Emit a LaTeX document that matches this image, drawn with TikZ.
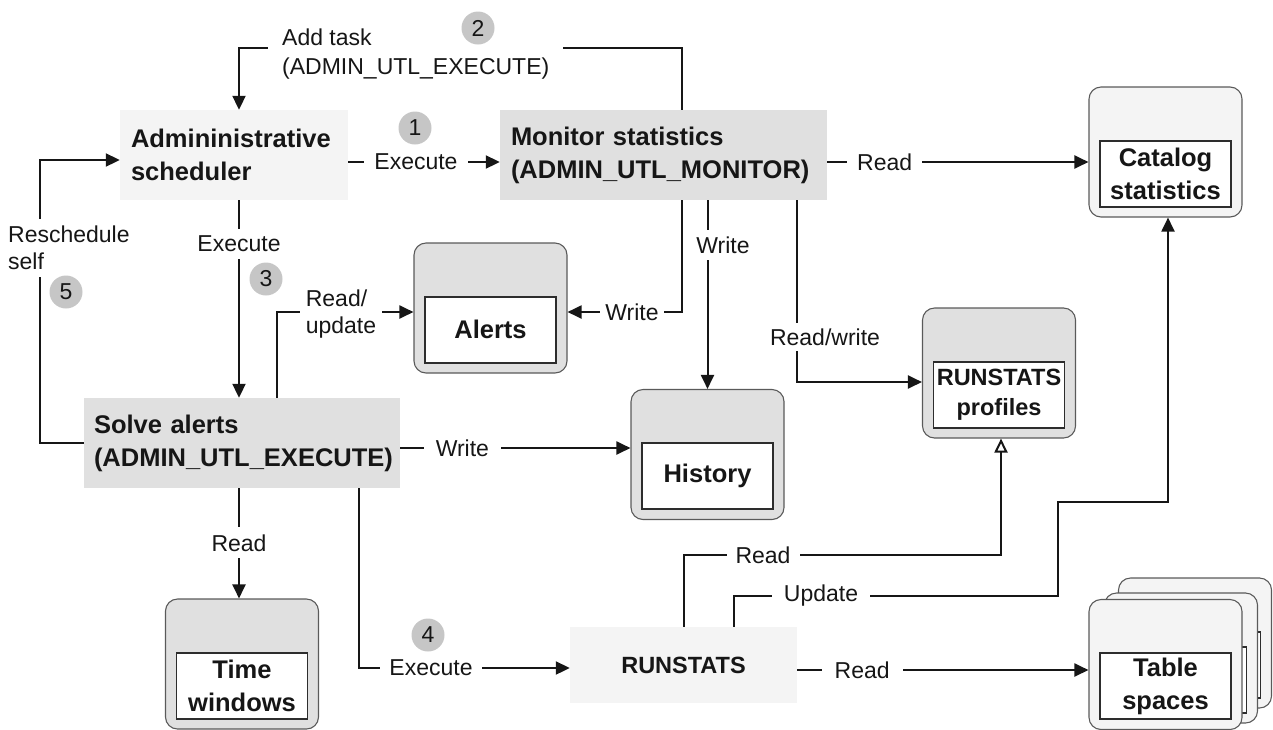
\documentclass[tikz,border=0pt]{standalone}
\usepackage{fontspec}
\setmainfont{Liberation Sans}
\usepackage{xcolor}
\usetikzlibrary{positioning, arrows.meta}

\definecolor{procdark}{HTML}{E0E0E0}
\definecolor{proclight}{HTML}{F4F4F4}
\definecolor{stepgray}{HTML}{C6C6C6}
\definecolor{ink}{HTML}{161616}
\definecolor{rim}{HTML}{5A5A5A}

\newcommand{\lblfont}{\fontsize{23}{27}\selectfont}
\newcommand{\procfont}{\fontsize{25.5}{33}\selectfont\bfseries}
\newcommand{\narrowfont}{\fontsize{23.5}{30}\selectfont\bfseries}

\begin{document}
\begin{tikzpicture}[
  x=1pt, y=-1pt,
  proc/.style={minimum height=90pt, inner xsep=11pt, inner ysep=0pt,
               align=left, font=\procfont, text=ink},
  store/.style={draw=rim, line width=1.1pt, rounded corners=12pt,
                minimum width=153pt, minimum height=130pt, inner sep=0pt},
  inbox/.style={draw=ink!90, line width=1.8pt, fill=white,
                minimum width=131pt, minimum height=66pt, inner sep=0pt,
                align=center, font=\procfont, text=ink},
  lbl/.style={fill=white, font=\lblfont, text=ink, inner xsep=10pt,
              inner ysep=3pt, align=left},
  num/.style={circle, fill=stepgray, minimum size=33pt, inner sep=0pt,
              font=\lblfont, text=ink},
  link/.style={line width=2pt, draw=ink},
  arr/.style={link, -{Triangle[length=14pt, width=13pt]}},
  openarr/.style={link, -{Triangle[open, fill=white, length=14pt, width=13pt]}},
]
  \useasboundingbox (0,0) rectangle (1273,729);

  % Processes
  \node[proc, fill=proclight, text width=206pt] (admin) at (234,155)
    {Admininistrative\\scheduler};
  \node[proc, fill=procdark, text width=305pt] (monitor) at (663.5,155)
    {Monitor statistics\\(ADMIN\_UTL\_MONITOR)};
  \node[proc, fill=procdark, text width=296pt, inner xsep=10pt] (solve)
    at (242,443) {Solve alerts\\(ADMIN\_UTL\_EXECUTE)};
  \node[proc, fill=proclight, minimum width=227pt, minimum height=76pt,
        align=center, font=\narrowfont] (runstats) at (683.5,665) {RUNSTATS};

  % Data stores
  \node[store, fill=procdark] (alerts) at (490.5,308) {};
  \node[inbox, above=10pt of alerts.south] (alerts-in) {Alerts};

  \node[store, fill=procdark] (history) at (707.5,454.5) {};
  \node[inbox, above=10pt of history.south] (history-in) {History};

  \node[store, fill=procdark] (profiles) at (999,373) {};
  \node[inbox, above=10pt of profiles.south, font=\narrowfont]
    (profiles-in) {RUNSTATS\\profiles};

  \node[store, fill=procdark] (timewin) at (242,664) {};
  \node[inbox, above=10pt of timewin.south] (timewin-in) {Time\\windows};

  \node[store, fill=proclight] (catalog) at (1165.5,152) {};
  \node[inbox, above=10pt of catalog.south] (catalog-in) {Catalog\\statistics};

  % Table spaces (stacked)
  \node[store, fill=proclight] (tables-back) at (1195,643) {};
  \node[inbox, above=10pt of tables-back.south] (tables-back-in) {};
  \node[store, fill=proclight] (tables-mid) at (1181,658) {};
  \node[inbox, above=10pt of tables-mid.south] (tables-mid-in) {};
  \node[store, fill=proclight] (tables) at (1165.5,664.5) {};
  \node[inbox, above=10pt of tables.south] (tables-in) {Table\\spaces};

  % Scheduler flows
  \draw[arr] ([xshift=18.5pt]monitor.north) -- ++(0,-62)
    -| ([xshift=5pt]admin.north);
  \draw[arr] ([yshift=-7pt]admin.east) --
    node[lbl, pos=0.447] (exec1) {Execute} ([yshift=-7pt]monitor.west);
  \draw[arr] ([xshift=5pt]admin.south) --
    node[lbl, pos=0.22, inner xsep=4pt, inner ysep=7pt] (exec2) {Execute}
    ([xshift=-3pt]solve.north);
  \draw[arr] (solve.west) -- ++(-44,0) |- ([yshift=-5pt]admin.west);

  % Monitor flows
  \draw[arr] ([yshift=-7pt]monitor.east) --
    node[lbl, pos=0.22] (read1) {Read} ([yshift=-10pt]catalog.west);
  \draw[arr] ([xshift=18.5pt]monitor.south) |- ([yshift=-4pt]alerts.east);
  \draw[arr] ([xshift=44pt]monitor.south) -- (history.north);
  \draw[arr] ([xshift=133.5pt]monitor.south) |- ([yshift=-9pt]profiles.west);

  % Solve alerts flows
  \draw[arr] ([xshift=35pt]solve.north) |- ([yshift=-4pt]alerts.west);
  \draw[arr] ([yshift=-5pt]solve.east) --
    node[lbl, pos=0.27, inner xsep=12pt] (write3) {Write}
    ([yshift=6.5pt]history.west);
  \draw[arr] ([xshift=-3pt]solve.south) --
    node[lbl, pos=0.495, inner xsep=3pt, inner ysep=7pt] (read2) {Read}
    ([xshift=-3pt]timewin.north);
  \draw[arr] ([xshift=117pt]solve.south) |- ([yshift=-3pt]runstats.west);

  % RUNSTATS flows
  \draw[openarr] ([xshift=0.5pt]runstats.north) -- ++(0,-72)
    -| ([xshift=2pt]profiles.south);
  \draw[arr] ([xshift=50.5pt]runstats.north) -- ++(0,-31) -- ++(324,0)
    -- ++(0,-94) -| ([xshift=2.5pt]catalog.south);
  \draw[arr] ([yshift=-5pt]runstats.east) --
    node[lbl, pos=0.223, inner xsep=13pt] (read4) {Read}
    ([yshift=-5.5pt]tables.west);

  % Labels on bent lines
  \node[lbl, anchor=west, inner xsep=14pt] (addtask) at (268,54)
    {Add task\\[2pt](ADMIN\_UTL\_EXECUTE)};
  \node[lbl, anchor=west, inner xsep=4pt, inner ysep=7pt] (resched)
    at (4,248) {Reschedule\\self};
  \node[lbl, inner xsep=6pt, inner ysep=1pt] (rdupd) at (341,314)
    {Read/\\update};
  \node[lbl, inner xsep=5pt] (write1) at (632,312) {Write};
  \node[lbl, inner xsep=3pt, inner ysep=7pt] (write2) at (723,245) {Write};
  \node[lbl, inner xsep=4pt, inner ysep=6pt] (rdwr) at (825,337) {Read/write};
  \node[lbl, inner xsep=9pt] (exec4) at (431,668) {Execute};
  \node[lbl, inner xsep=9pt] (read3) at (763,555) {Read};
  \node[lbl, inner xsep=12pt] (update) at (821,596) {Update};

  % Step numbers
  \node[num] (n1) at (415,128) {1};
  \node[num] (n2) at (478,28) {2};
  \node[num] (n3) at (266,279) {3};
  \node[num] (n4) at (428,635) {4};
  \node[num] (n5) at (66,292) {5};

\end{tikzpicture}
\end{document}
